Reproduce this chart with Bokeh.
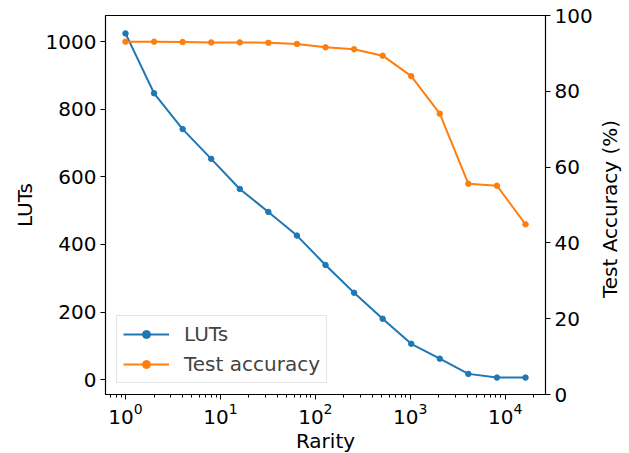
import math
from bokeh.plotting import figure
from bokeh.models import (Range1d, LinearAxis, Legend, LegendItem, ColumnDataSource,
                          FixedTicker, CustomJSTickFormatter)
from bokeh.embed import file_html
from bokeh.resources import INLINE

rarity = [1, 2, 4, 8, 16, 32, 64, 128, 256, 512, 1024, 2048, 4096, 8192, 16384]
luts = [1024, 847, 741, 653, 564, 496, 426, 339, 257, 180, 106, 62, 17, 6, 6]
accuracy = [93.1, 93.1, 93.0, 92.9, 92.9, 92.8, 92.5, 91.6, 91.1, 89.4, 84.0, 74.1, 55.6, 55.1, 44.9]
lut_ticks = [0, 200, 400, 600, 800, 1000]
acc_ticks = [0, 20, 40, 60, 80, 100]
right_title = "Test Accuracy (%)"

BLUE = "#1f77b4"
ORANGE = "#ff7f0e"
FONT = "DejaVu Sans"
FS = "20px"
FW, FH = 440, 379
TITLE_LEN = 186  # approx. rendered length of the right title, px

src = ColumnDataSource(dict(x=rarity, luts=luts, acc=accuracy))

p = figure(frame_width=FW, frame_height=FH, x_axis_type="log",
           x_range=Range1d(10 ** -0.2107, 10 ** 4.425),
           y_range=Range1d(-44, 1077),
           output_backend="svg", toolbar_location=None,
           min_border_left=105, min_border_right=84, min_border_top=15, min_border_bottom=59)
p.extra_y_ranges = {"acc": Range1d(0, 100)}

p.xgrid.visible = False
p.ygrid.visible = False
p.outline_line_color = "black"
p.outline_line_width = 1.2
p.outline_line_alpha = 1.0

l1 = p.line("x", "luts", source=src, line_color=BLUE, line_width=2)
s1 = p.scatter("x", "luts", source=src, size=5.5, fill_color=BLUE, line_color=BLUE)
l2 = p.line("x", "acc", source=src, line_color=ORANGE, line_width=2, y_range_name="acc")
s2 = p.scatter("x", "acc", source=src, size=5.5, fill_color=ORANGE, line_color=ORANGE, y_range_name="acc")

right = LinearAxis(y_range_name="acc")
p.add_layout(right, "right")

p.xaxis.axis_label = "Rarity"
p.yaxis[0].axis_label = "LUTs"

for ax in [p.xaxis[0], p.yaxis[0], right]:
    ax.axis_label_text_font = FONT
    ax.axis_label_text_font_size = FS
    ax.axis_label_text_font_style = "normal"
    ax.axis_label_text_color = "black"
    ax.major_label_text_font = FONT
    ax.major_label_text_font_size = FS
    ax.major_label_text_color = "black"
    ax.major_tick_in = 0
    ax.major_tick_out = 5
    ax.minor_tick_in = 0
    ax.minor_tick_out = 3
    ax.axis_line_color = "black"
    ax.major_tick_line_color = "black"
    ax.minor_tick_line_color = "black"
    ax.major_label_standoff = 4
    ax.axis_label_standoff = 6

p.xaxis[0].axis_label_standoff = 2
p.xaxis[0].major_label_standoff = 3

p.yaxis[0].ticker = lut_ticks
right.ticker = acc_ticks
p.yaxis[0].minor_tick_line_color = None
right.minor_tick_line_color = None

# Right-hand axis title, reading bottom-to-top (drawn as a single rotated tick label)
start_val = 50 - (TITLE_LEN / 2) / FH * 100
title_axis = LinearAxis(y_range_name="acc", ticker=FixedTicker(ticks=[start_val]),
                        formatter=CustomJSTickFormatter(code="return %r" % right_title))
title_axis.major_label_orientation = math.pi / 2
title_axis.major_label_text_font = FONT
title_axis.major_label_text_font_size = FS
title_axis.major_label_text_color = "black"
title_axis.axis_line_color = None
title_axis.major_tick_line_color = None
title_axis.minor_tick_line_color = None
title_axis.major_tick_out = 0
title_axis.major_tick_in = 0
title_axis.major_label_standoff = 14
p.add_layout(title_axis, "right")

legend = Legend(items=[LegendItem(label="LUTs", renderers=[l1, s1]),
                       LegendItem(label="Test accuracy", renderers=[l2, s2])],
                location="bottom_left")
legend.label_text_font = FONT
legend.label_text_font_size = FS
legend.border_line_color = "#cccccc"
legend.border_line_width = 1
legend.background_fill_alpha = 0.8
legend.margin = 11
legend.padding = 6
legend.spacing = 6
legend.glyph_width = 46
legend.label_standoff = 15
p.add_layout(legend, "center")

open("out.html", "w").write(file_html(p, INLINE))
